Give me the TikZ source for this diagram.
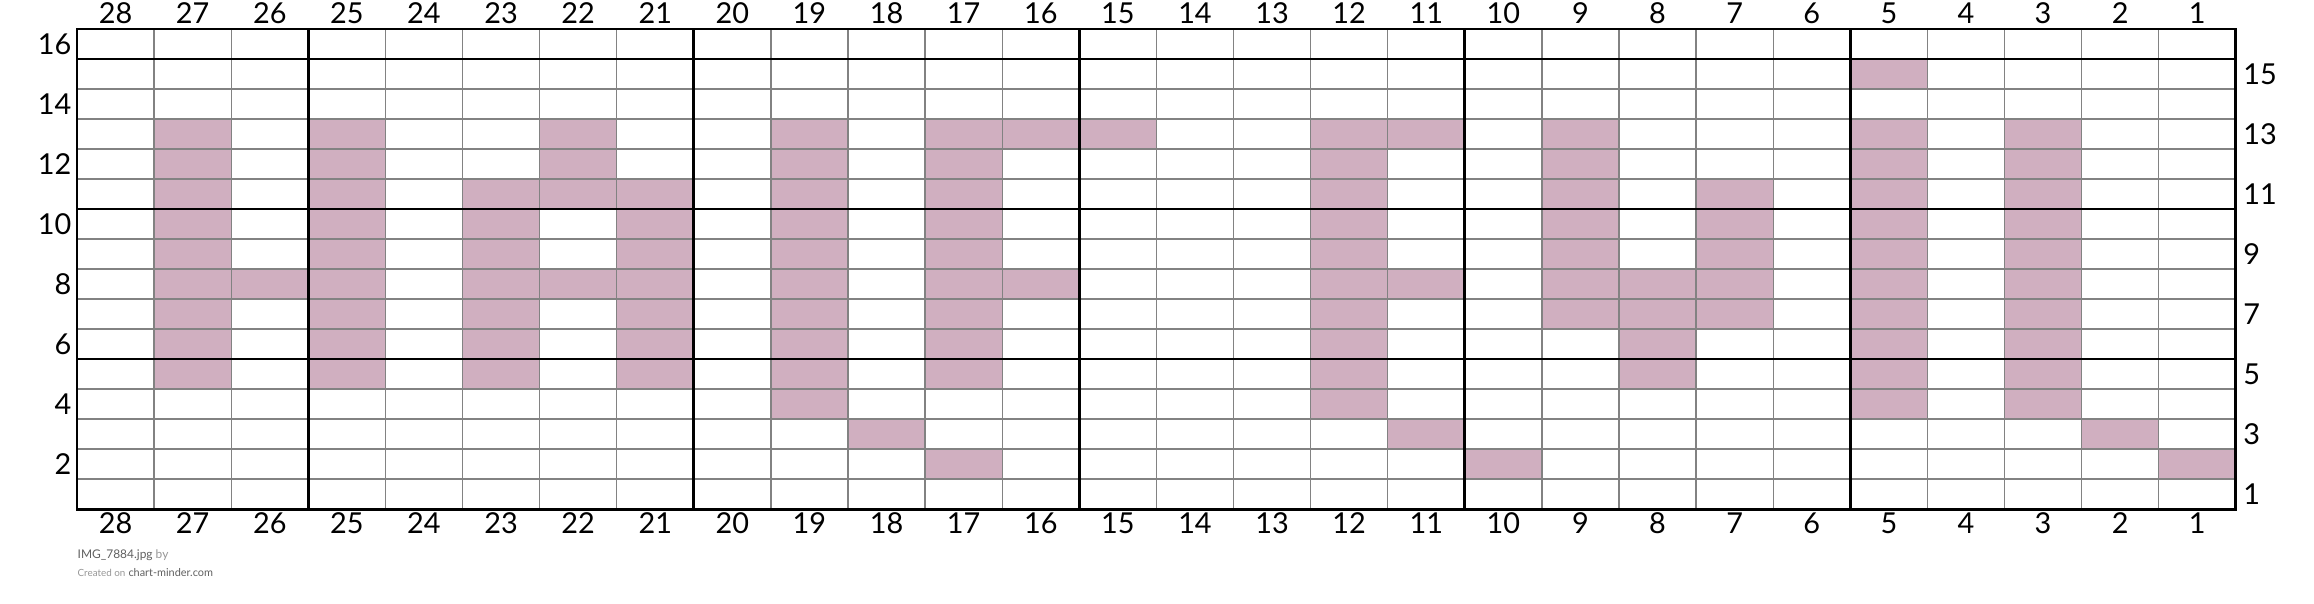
\documentclass[tikz,border=0pt]{standalone}
\usepackage{fontspec}
\setmainfont{Lato}
\usepackage{xcolor}
\usepackage{tikz}
\usetikzlibrary{positioning}
\definecolor{mauve}{RGB}{208,175,192}
\definecolor{linegray}{RGB}{130,130,130}
\definecolor{footgray}{RGB}{95,95,95}
\definecolor{footlight}{RGB}{150,150,150}

\begin{document}
\begin{tikzpicture}[
    x=0.771cm, y=0.3cm,
    cell/.style={fill=mauve},
    gridthin/.style={draw=linegray, line width=0.4pt},
    gridbold/.style={draw=black, line width=0.85pt},
    num/.style={font=\fontsize{8.2}{10}\selectfont, inner sep=0pt},
    foot/.style={font=\fontsize{3.4}{4}\selectfont, inner sep=0pt, anchor=west},
]
\useasboundingbox (-0.9987,-3.1333) rectangle (29.014,16.967);

% coloured stitches, row/columns
\foreach \r/\cols in {15/{5},
    13/{27,25,22,19,17,16,15,12,11,9,5,3},
    12/{27,25,22,19,17,12,9,5,3},
    11/{27,25,23,22,21,19,17,12,9,7,5,3},
    10/{27,25,23,21,19,17,12,9,7,5,3},
    9/{27,25,23,21,19,17,12,9,7,5,3},
    8/{27,26,25,23,22,21,19,17,16,12,11,9,8,7,5,3},
    7/{27,25,23,21,19,17,12,9,8,7,5,3},
    6/{27,25,23,21,19,17,12,8,5,3},
    5/{27,25,23,21,19,17,12,8,5,3},
    4/{19,12,5,3},
    3/{18,11,2},
    2/{17,10,1}}
  \foreach \c in \cols
    \fill[cell] (28-\c,\r-1) rectangle ++(1,1);

% grid
\draw[gridthin] (0,0) grid[step=1] (28,16);
\foreach \x in {3,8,13,18,23}
  \draw[gridbold] (\x,0) -- (\x,16);
\foreach \y in {5,10,15}
  \draw[gridbold] (0,\y) -- (28,\y);
\draw[gridbold] (0,0) rectangle (28,16);

% column and row numbers
\foreach \c in {1,...,28} {
  \node[num] (top\c) at (28.5-\c,16.53) {\c};
  \node[num] (bot\c) at (28.5-\c,-0.47) {\c};
}
\foreach \r in {2,4,...,16}
  \node[num, anchor=east] (left\r) at (-0.065,\r-0.5) {\r};
\foreach \r in {1,3,...,15}
  \node[num, anchor=west] (right\r) at (28.09,\r-0.5) {\r};

% footer
\node[foot] (imgname) at (0,-1.53) {\textcolor{footgray}{IMG\_7884.jpg} \textcolor{footlight}{by}};
\node[foot] (credit) at (0,-2.13) {\textcolor{footlight}{\fontsize{2.8}{4}\selectfont Created on} \textcolor{footgray}{\fontsize{3.1}{4}\selectfont chart-minder.com}};
\end{tikzpicture}
\end{document}
